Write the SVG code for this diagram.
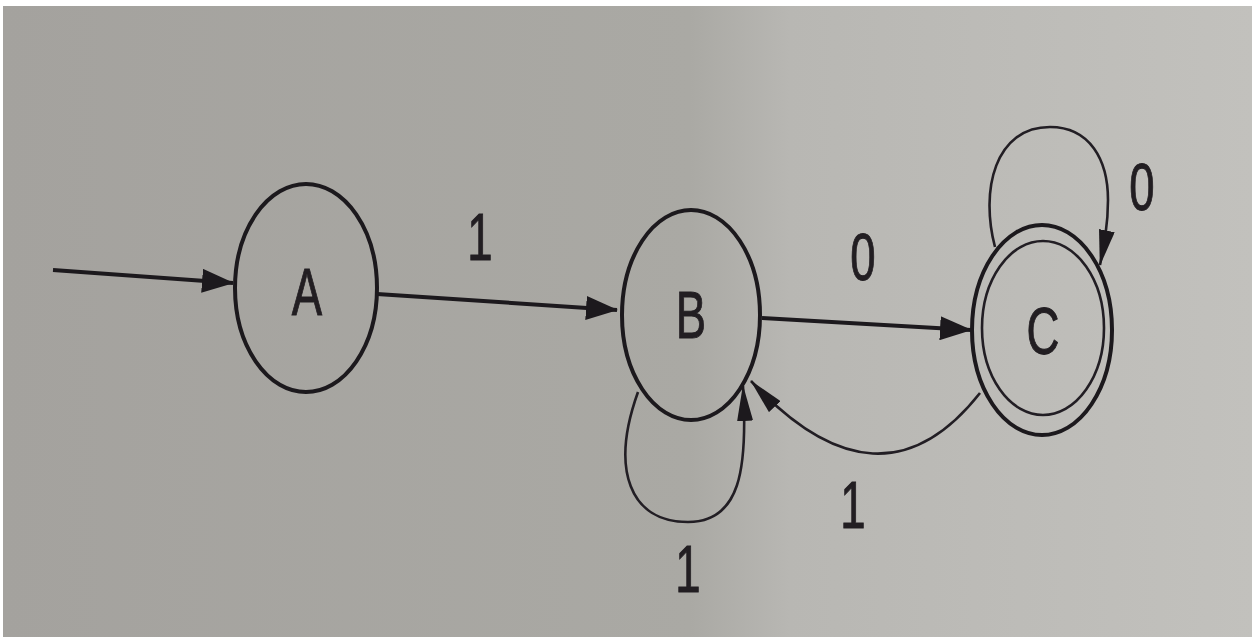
<svg xmlns="http://www.w3.org/2000/svg" width="1252" height="638" viewBox="0 0 1252 638">
<style>
.st{fill:none;stroke:#1c191d;stroke-width:4}
.ed{fill:none;stroke:#1c191d;stroke-width:4}
.cv{fill:none;stroke:#221e24;stroke-width:2.6}
.lb{font-family:"Liberation Sans",Arial,sans-serif;font-size:67px;fill:#221e22;stroke:#221e22;stroke-width:1;text-anchor:middle}
</style>
<defs>
<linearGradient id="bg" x1="0" y1="0" x2="1" y2="0">
<stop offset="0" stop-color="#a4a29e"/>
<stop offset="0.55" stop-color="#aaa9a4"/>
<stop offset="0.63" stop-color="#b8b7b3"/>
<stop offset="1" stop-color="#c2c1bd"/>
</linearGradient>
<marker id="big" markerUnits="userSpaceOnUse" markerWidth="32" markerHeight="24" refX="31" refY="12" orient="auto">
<path d="M0,0 L32,12 L0,24 z" fill="#1c191d"/>
</marker>
<marker id="slim" markerUnits="userSpaceOnUse" markerWidth="36" markerHeight="16" refX="35" refY="8" orient="auto">
<path d="M0,0 L36,8 L0,16 z" fill="#1c191d"/>
</marker>
</defs>
<rect width="1252" height="638" fill="#ffffff"/>
<rect x="3" y="6" width="1249" height="631" fill="url(#bg)"/>
<g id="connectors">
<path class="ed" d="M53,270 L233,283" marker-end="url(#big)"/>
<path class="ed" d="M377,294 L617,310" marker-end="url(#big)"/>
<path class="ed" d="M762,318 L971,330" marker-end="url(#big)"/>
<path class="cv" d="M980,393 Q880,520 751,381" marker-end="url(#slim)"/>
<path class="cv" d="M638,392 C610,470 630,522 688,522 C740,522 748,470 743,386" marker-end="url(#slim)"/>
<path class="cv" d="M995,247 C980,190 995,127 1050,127 C1090,127 1108,160 1108,200 C1108,225 1104,245 1100,265" marker-end="url(#slim)"/>
<text class="lb" transform="translate(480,260) scale(0.68,1)">1</text>
<text class="lb" transform="translate(863,280) scale(0.68,1)">0</text>
<text class="lb" transform="translate(1142,210) scale(0.68,1)">0</text>
<text class="lb" transform="translate(853,528) scale(0.68,1)">1</text>
<text class="lb" transform="translate(688,592) scale(0.68,1)">1</text>
</g>
<g id="A">
<ellipse class="st" cx="306" cy="288" rx="71" ry="104"/>
<text class="lb" transform="translate(307,315) scale(0.68,1)">A</text>
</g>
<g id="B">
<ellipse class="st" cx="691" cy="315" rx="69" ry="105"/>
<text class="lb" transform="translate(691,338) scale(0.68,1)">B</text>
</g>
<g id="C">
<ellipse class="st" cx="1042" cy="330" rx="70" ry="105"/>
<ellipse class="cv" cx="1043" cy="328" rx="61" ry="87"/>
<text class="lb" transform="translate(1043,354) scale(0.68,1)">C</text>
</g>
</svg>
